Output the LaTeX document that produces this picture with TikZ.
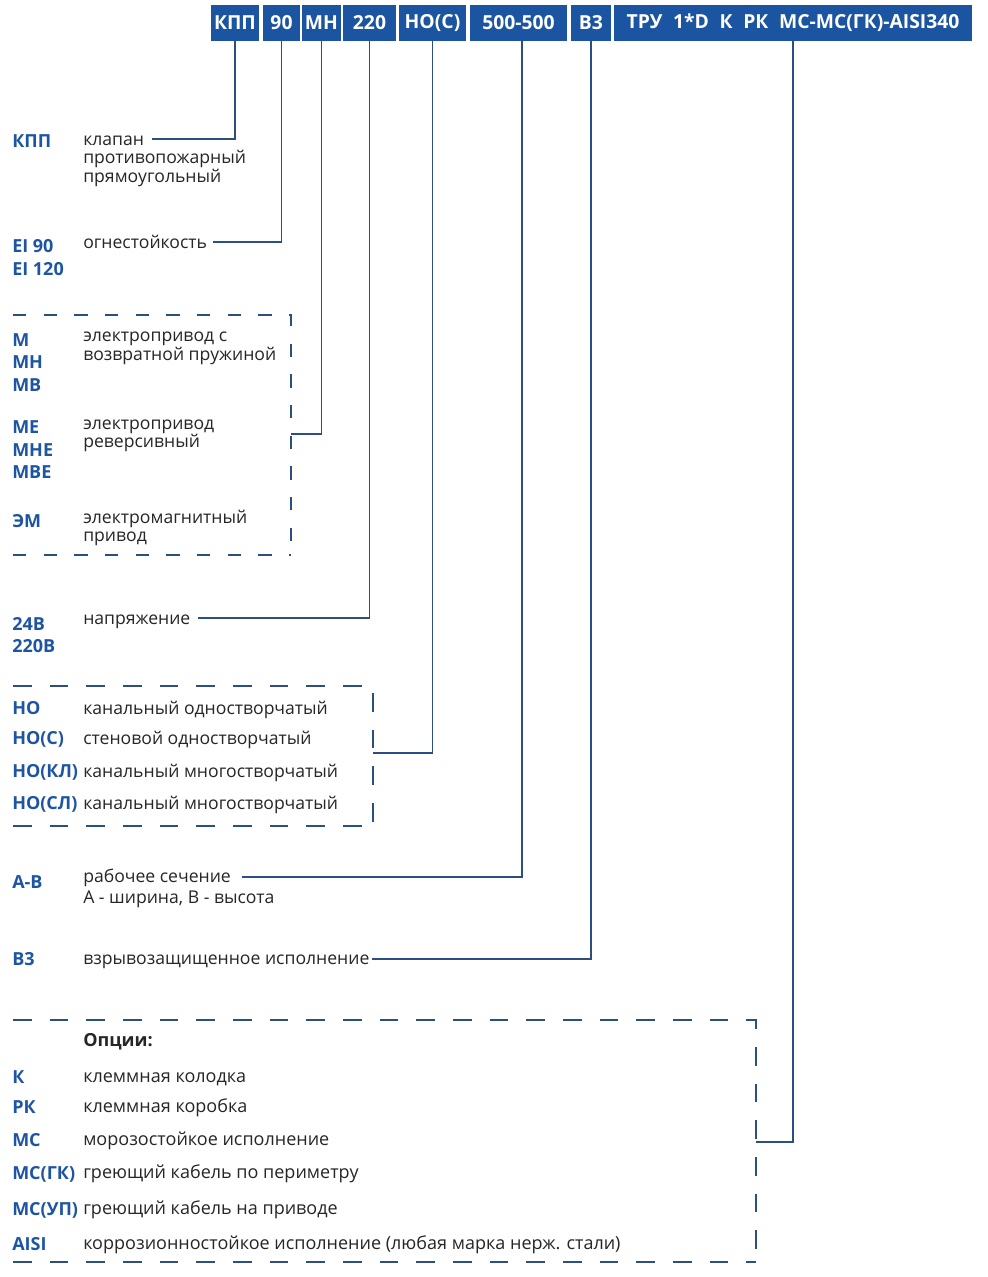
\documentclass[tikz,border=0pt]{standalone}
\usepackage{fontspec}
\setmainfont{Open Sans}
\definecolor{hblue}{HTML}{1B54A0}
\definecolor{cblue}{HTML}{1D55A3}
\definecolor{lblue}{HTML}{2A4F80}
\definecolor{tgray}{HTML}{262626}
\begin{document}
\begin{tikzpicture}[x=0.75pt,y=-0.75pt,
  hbox/.style={fill=hblue, text=white, font=\bfseries\fontsize{14.5}{15}\selectfont, minimum height=27pt, inner sep=0pt, anchor=center},
  code/.style={anchor=base west, text=cblue, font=\bfseries\fontsize{13.5}{14}\selectfont, inner sep=0pt},
  desc/.style={anchor=base west, text=tgray, font=\fontsize{13.2}{14}\selectfont, inner sep=0pt},
  optdesc/.style={desc, font=\fontsize{13.5}{14}\selectfont},
  conn/.style={draw=lblue, line width=1.1pt},
  dboxa/.style={draw=lblue, line width=1.1pt, dash pattern=on 10pt off 13pt},
  dboxb/.style={draw=lblue, line width=1.1pt, dash pattern=on 14pt off 13.5pt}]
\useasboundingbox (0,0) rectangle (988,1277);
\fill[white] (0,0) rectangle (988,1277);
% header
\node[hbox, minimum width=36pt] (b1) at (235,23) {КПП};
\node[hbox, minimum width=27.75pt] (b2) at (281.5,23) {90};
\node[hbox, minimum width=29.25pt] (b3) at (321.5,23) {МН};
\node[hbox, minimum width=39.75pt] (b4) at (369.5,23) {220};
\node[hbox, minimum width=50.25pt] (b5) at (432.5,23) {НО(С)};
\node[hbox, minimum width=72.75pt] (b6) at (518.5,23) {500-500};
\node[hbox, minimum width=30pt] (b7) at (591,23) {В3};
\node[hbox, minimum width=268.5pt] (b8) at (793,23) {ТРУ\hspace{0.55em}1*D\hspace{0.55em}К\hspace{0.55em}РК\hspace{0.55em}МС-МС(ГК)-AISI340};
% connector ends
\coordinate (e1) at (152,139);
\coordinate (e2) at (213,242);
\coordinate (e3) at (291,434);
\coordinate (e4) at (198,618);
\coordinate (e5) at (373,753);
\coordinate (e6) at (242,877);
\coordinate (e7) at (372,959);
\coordinate (e8) at (756,1142);
\draw[conn] (b1.south) |- (e1);
\draw[conn] (b2.south) |- (e2);
\draw[conn] (b3.south) |- (e3);
\draw[conn] (b4.south) |- (e4);
\draw[conn] (b5.south) |- (e5);
\draw[conn] ([xshift=2.5pt]b6.south) |- (e6);
\draw[conn] (b7.south) |- (e7);
\draw[conn] (b8.south) |- (e8);
% КПП
\node[code] (c1) at (12,148) {КПП};
\node[desc] (d1a) at (83,146) {клапан};
\node[desc] (d1b) at (83,164) {противопожарный};
\node[desc] (d1c) at (83,182) {прямоугольный};
% EI
\node[code] (c2a) at (12,252) {EI 90};
\node[code] (c2b) at (12,275) {EI 120};
\node[desc] (d2) at (83,248) {огнестойкость};
% box 1
\draw[dboxa] (13,315) -- (291,315) -- (291,545);
\draw[dboxa] (13,555) -- (291,555);
\node[code] (c3a) at (12,346) {М};
\node[code] (c3b) at (12,368) {МН};
\node[code] (c3c) at (12,391) {МВ};
\node[desc] (d3a) at (83,341) {электропривод с};
\node[desc] (d3b) at (83,360) {возвратной пружиной};
\node[code] (c3d) at (12,433) {МЕ};
\node[code] (c3e) at (12,456) {МНЕ};
\node[code] (c3f) at (12,478) {МВЕ};
\node[desc] (d3c) at (83,429) {электропривод};
\node[desc] (d3d) at (83,447) {реверсивный};
\node[code] (c3g) at (12,527) {ЭМ};
\node[desc] (d3e) at (83,523) {электромагнитный};
\node[desc] (d3f) at (83,541) {привод};
% voltage
\node[code] (c4a) at (12,630) {24В};
\node[code] (c4b) at (12,652) {220В};
\node[desc] (d4) at (83,624) {напряжение};
% box 2
\draw[dboxb] (13,686) -- (362,686);
\draw[dboxb] (373,693) -- (373,826);
\draw[dboxb] (13,826) -- (362,826);
\node[code] (c5a) at (12,714) {НО};
\node[desc] (d5a) at (83,714) {канальный одностворчатый};
\node[code] (c5b) at (12,744) {НО(С)};
\node[desc] (d5b) at (83,744) {стеновой одностворчатый};
\node[code] (c5c) at (12,777) {НО(КЛ)};
\node[desc] (d5c) at (83,777) {канальный многостворчатый};
\node[code] (c5d) at (12,809) {НО(СЛ)};
\node[desc] (d5d) at (83,809) {канальный многостворчатый};
% A-B
\node[code] (c6) at (12,888) {А-В};
\node[desc] (d6a) at (83,882) {рабочее сечение};
\node[desc] (d6b) at (83,903) {А - ширина, В - высота};
% B3
\node[code] (c7) at (12,965) {В3};
\node[desc] (d7) at (83,964) {взрывозащищенное исполнение};
% box 3
\draw[dboxb] (13,1020) -- (756,1020) -- (756,1250);
\draw[dboxb] (13,1262) -- (756,1262);
\node[optdesc, font=\bfseries\fontsize{13.5}{14}\selectfont] (opt) at (83,1046) {Опции:};
\node[code] (c8a) at (12,1083) {К};
\node[optdesc] (d8a) at (83,1082) {клеммная колодка};
\node[code] (c8b) at (12,1113) {РК};
\node[optdesc] (d8b) at (83,1112) {клеммная коробка};
\node[code] (c8c) at (12,1146) {МС};
\node[optdesc] (d8c) at (83,1145) {морозостойкое исполнение};
\node[code] (c8d) at (12,1179) {МС(ГК)};
\node[optdesc] (d8d) at (83,1178) {греющий кабель по периметру};
\node[code] (c8e) at (12,1215) {МС(УП)};
\node[optdesc] (d8e) at (83,1214) {греющий кабель на приводе};
\node[code] (c8f) at (12,1250) {AISI};
\node[optdesc] (d8f) at (83,1249) {коррозионностойкое исполнение (любая марка нерж. стали)};
\end{tikzpicture}
\end{document}
